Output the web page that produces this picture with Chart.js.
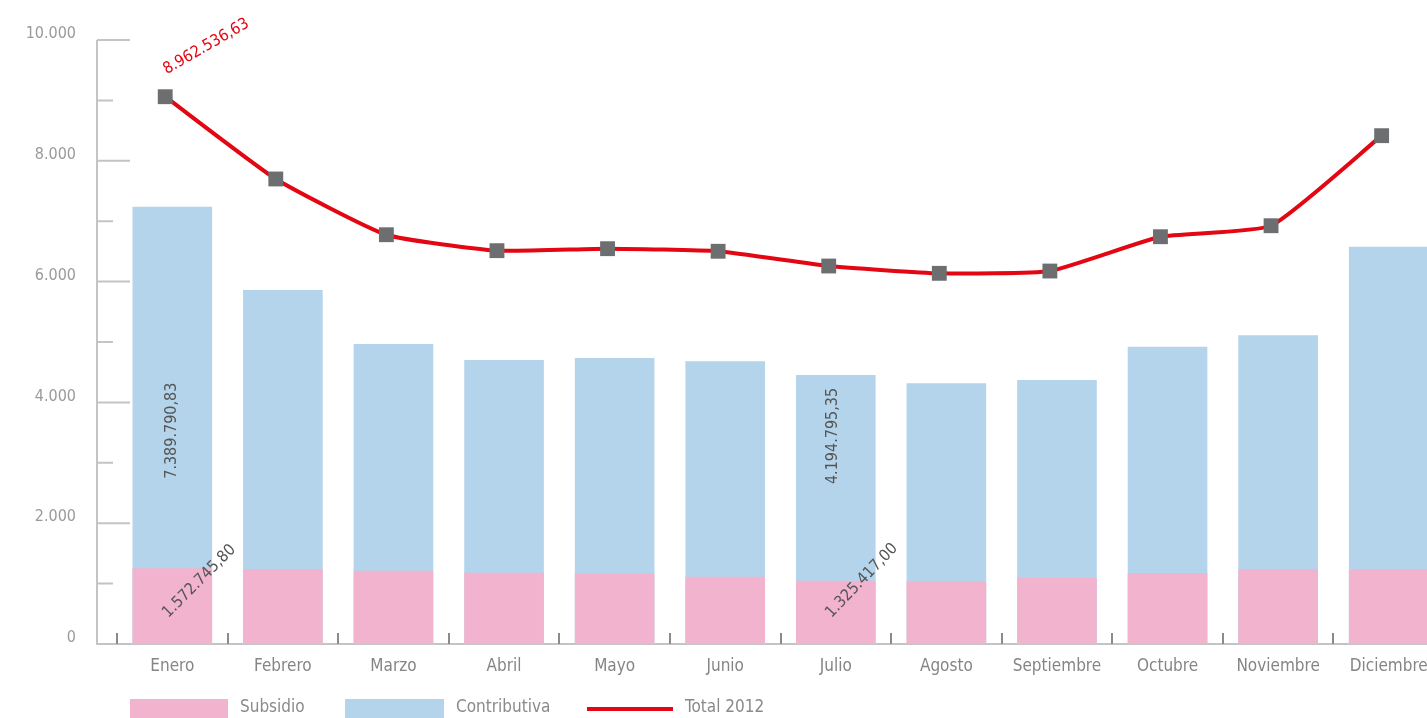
<!DOCTYPE html>
<html>
<head>
<meta charset="utf-8">
<script src="https://cdn.jsdelivr.net/npm/chart.js@4.4.1/dist/chart.umd.min.js"></script>
<style>
  html, body { margin: 0; padding: 0; background: #fff; overflow: hidden; }
  #wrap { width: 1460px; height: 718px; position: relative; }
</style>
</head>
<body>
<div id="wrap"><canvas id="chart"></canvas></div>
<script>
  const months = ['Enero', 'Febrero', 'Marzo', 'Abril', 'Mayo', 'Junio', 'Julio', 'Agosto', 'Septiembre', 'Octubre', 'Noviembre', 'Diciembre'];
  const subsidio = [1253, 1242, 1214, 1180, 1164, 1114, 1048, 1038, 1093, 1175, 1242, 1242];
  const contributiva = [7240, 5861, 4967, 4702, 4735, 4680, 4454, 4316, 4371, 4922, 5111, 6578];
  const total2012 = [9061, 7699, 6776, 6512, 6545, 6502, 6258, 6137, 6175, 6743, 6925, 8416];
  const yTicks = [0, 2000, 4000, 6000, 8000, 10000];
  const yMinor = [1000, 3000, 5000, 7000, 9000];

  const FONT = "'DejaVu Sans Condensed', 'DejaVu Sans', sans-serif";
  const PINK = '#f2b3ce';
  const BLUE = '#b3d4eb';
  const RED = '#e30613';
  const GREY = '#6d6e70';

  // value labels written on the chart
  const notes = [
    { ds: 2, i: 0, text: '8.962.536,63', color: RED, angle: -30, dx: 41, dy: -50 },
    { ds: 1, i: 0, text: '7.389.790,83', color: '#555', angle: -90, dx: 0, dy: 224 },
    { ds: 0, i: 0, text: '1.572.745,80', color: '#555', angle: -45, dx: 27, dy: 13 },
    { ds: 1, i: 6, text: '4.194.795,35', color: '#555', angle: -90, dx: -3, dy: 61 },
    { ds: 0, i: 6, text: '1.325.417,00', color: '#555', angle: -46, dx: 26, dy: 0 }
  ];

  const fmt = v => String(v).replace(/\B(?=(\d{3})+(?!\d))/g, '.');

  const axesPlugin = {
    id: 'axes',
    beforeDatasetsDraw(chart) {
      const { ctx, chartArea, scales: { x, y } } = chart;
      const ax = chartArea.left - 20;
      const y0 = y.getPixelForValue(0);
      ctx.save();
      ctx.strokeStyle = '#c4c4c4';
      ctx.lineWidth = 2;
      ctx.beginPath();
      ctx.moveTo(ax, y.getPixelForValue(10000));
      ctx.lineTo(ax, y0);
      ctx.lineTo(chartArea.right + 20, y0);
      yTicks.forEach(v => {
        if (v === 0) return;
        const py = y.getPixelForValue(v);
        ctx.moveTo(ax, py);
        ctx.lineTo(ax + 33, py);
      });
      yMinor.forEach(v => {
        const py = y.getPixelForValue(v);
        ctx.moveTo(ax, py);
        ctx.lineTo(ax + 16, py);
      });
      ctx.stroke();

      const step = x.getPixelForValue(1) - x.getPixelForValue(0);
      ctx.strokeStyle = '#8a8a8a';
      ctx.beginPath();
      for (let i = 0; i <= months.length; i++) {
        const px = Math.round(x.getPixelForValue(0) - step / 2 + i * step);
        ctx.moveTo(px, y0);
        ctx.lineTo(px, y0 - 11);
      }
      ctx.stroke();
      ctx.restore();
    }
  };

  const notesPlugin = {
    id: 'notes',
    afterDatasetsDraw(chart) {
      const { ctx } = chart;
      ctx.save();
      ctx.font = '16px ' + FONT;
      ctx.textAlign = 'center';
      ctx.textBaseline = 'middle';
      notes.forEach(n => {
        const el = chart.getDatasetMeta(n.ds).data[n.i];
        ctx.save();
        ctx.translate(el.x + n.dx, el.y + n.dy);
        ctx.rotate(n.angle * Math.PI / 180);
        ctx.fillStyle = n.color;
        ctx.fillText(n.text, 0, 0);
        ctx.restore();
      });
      ctx.restore();
    }
  };

  const legendPlugin = {
    id: 'legendBottom',
    afterDraw(chart) {
      const { ctx } = chart;
      const ds = chart.data.datasets;
      ctx.save();
      ctx.font = '17px ' + FONT;
      ctx.textBaseline = 'middle';
      ctx.fillStyle = ds[0].backgroundColor;
      ctx.fillRect(130, 699, 98, 24);
      ctx.fillStyle = ds[1].backgroundColor;
      ctx.fillRect(345, 699, 99, 24);
      ctx.strokeStyle = ds[2].borderColor;
      ctx.lineWidth = 4;
      ctx.beginPath();
      ctx.moveTo(587, 709);
      ctx.lineTo(673, 709);
      ctx.stroke();
      ctx.fillStyle = '#8a8a8a';
      ctx.fillText(ds[0].label, 240, 708);
      ctx.fillText(ds[1].label, 456, 708);
      ctx.fillText(ds[2].label, 685, 708);
      ctx.restore();
    }
  };

  new Chart(document.getElementById('chart'), {
    data: {
      labels: months,
      datasets: [{
        type: 'bar',
        label: 'Subsidio',
        data: subsidio,
        backgroundColor: PINK,
        grouped: false,
        order: 1,
        barPercentage: 0.72,
        categoryPercentage: 1
      }, {
        type: 'bar',
        label: 'Contributiva',
        data: contributiva,
        backgroundColor: BLUE,
        grouped: false,
        order: 2,
        barPercentage: 0.72,
        categoryPercentage: 1
      }, {
        type: 'line',
        label: 'Total 2012',
        data: total2012.map((v, i) => ({ x: i, y: v })),
        xAxisID: 'x2',
        borderColor: RED,
        borderWidth: 4,
        tension: 0.15,
        pointStyle: 'rect',
        pointRadius: 10.5,
        pointBorderWidth: 0,
        pointBackgroundColor: GREY,
        pointBorderColor: GREY,
        order: 0
      }]
    },
    options: {
      responsive: true,
      maintainAspectRatio: false,
      animation: false,
      layout: { padding: { top: 40, right: 16, left: 0, bottom: 0 } },
      plugins: { legend: { display: false }, tooltip: { enabled: false } },
      scales: {
        x: {
          type: 'category',
          offset: true,
          grid: { display: false, drawTicks: false },
          border: { display: false },
          ticks: { color: '#858585', font: { family: FONT, size: 17 }, padding: 12, maxRotation: 0, autoSkip: false },
          afterFit: s => { s.height = 74; s.paddingLeft = 0; s.paddingRight = 0; }
        },
        x2: {
          type: 'linear',
          display: false,
          min: -0.5 + 0.064,
          max: 11.5 + 0.064
        },
        y: {
          min: 0,
          max: 10000,
          grid: { display: false, drawTicks: false },
          border: { display: false },
          afterBuildTicks: s => { s.ticks = yTicks.map(v => ({ value: v })); },
          ticks: { color: '#9a9a9a', font: { family: FONT, size: 16 }, padding: 41, labelOffset: -6, callback: v => fmt(v) },
          afterFit: s => { s.width = 117; s.paddingTop = 0; s.paddingBottom = 0; }
        }
      }
    },
    plugins: [axesPlugin, notesPlugin, legendPlugin]
  });
</script>
</body>
</html>
